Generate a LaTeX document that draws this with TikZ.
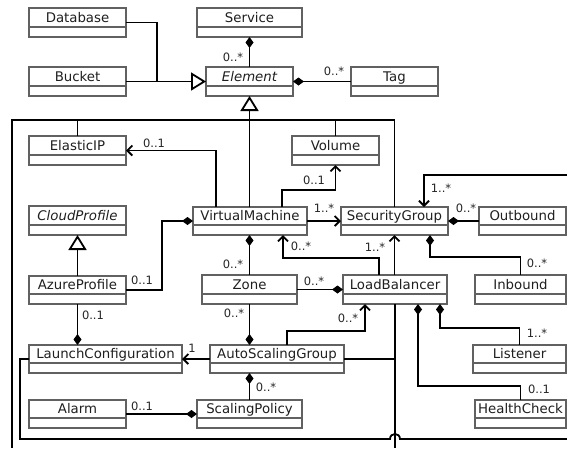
\documentclass[tikz,border=0pt]{standalone}
\usepackage{fontspec}
\setmainfont{DejaVu Sans}
\usetikzlibrary{arrows.meta}
\tikzset{
 ubox/.style={draw=black!62, line width=1.1pt, inner sep=0pt, outer sep=0pt, fill=white},
 udiv/.style={draw=black!62, line width=1.1pt},
 utext/.style={inner sep=0pt, text height=11pt, text depth=2pt, font=\fontsize{13.3}{15}\selectfont, text=black!88},
 conn/.style={draw=black, line width=1.8pt},
 mult/.style={inner sep=0pt, text height=8.4pt, text depth=0pt, font=\fontsize{11.5}{13}\selectfont, text=black!85},
 nav/.style={-{Straight Barb[length=5pt,width=10pt]}},
 comp/.style={-{Diamond[length=11pt,width=8pt]}},
 compstart/.style={{Diamond[length=11pt,width=8pt]}-},
 gen/.style={-{Triangle[length=15pt,width=18pt,fill=white]}},
}
\newcommand\umlbox[6]{%
  \node[ubox, minimum width={#4pt-#2pt}, minimum height={#5pt-#3pt}] (#1) at ({(#2+#4)/2},{(#3+#5)/2}) {};
  \draw[udiv] ([yshift=10pt]#1.south west) -- ([yshift=10pt]#1.south east);
  \node[utext] (#1-t) at ([yshift=5pt]#1.center) {#6};
}
\begin{document}
\begin{tikzpicture}[x=1pt,y=-1pt]
\useasboundingbox[fill=white] (0,0) rectangle (567,448);
% classes
\umlbox{db}{29}{8}{126}{37}{Database}
\umlbox{svc}{197}{8}{302}{37}{Service}
\umlbox{bucket}{29}{67}{126}{96}{Bucket}
\umlbox{elem}{206}{67}{293}{96}{\itshape Element}
\umlbox{tag}{351}{67}{438}{96}{Tag}
\umlbox{eip}{29}{136}{126}{165}{ElasticIP}
\umlbox{vol}{292}{136}{379}{165}{Volume}
\umlbox{cp}{29}{206}{126}{235}{\itshape CloudProfile}
\umlbox{vm}{193}{207}{307}{235}{VirtualMachine}
\umlbox{sg}{341}{207}{448}{235}{SecurityGroup}
\umlbox{ob}{479}{207}{566}{235}{Outbound}
\umlbox{ap}{29}{276}{126}{304}{AzureProfile}
\umlbox{zone}{202}{275}{297}{304}{Zone}
\umlbox{lb}{343}{275}{447}{304}{LoadBalancer}
\umlbox{ib}{475}{275}{566}{304}{Inbound}
\umlbox{lc}{29}{345}{182}{373}{LaunchConfiguration}
\umlbox{asg}{210}{345}{344}{373}{AutoScalingGroup}
\umlbox{lis}{473}{345}{566}{373}{Listener}
\umlbox{alarm}{29}{400}{126}{428}{Alarm}
\umlbox{sp}{197}{400}{302}{428}{ScalingPolicy}
\umlbox{hc}{475}{400}{566}{428}{HealthCheck}
% free ends at the picture edge
\coordinate (lft) at (12,448);
\coordinate (lbend) at (395,448);
\coordinate (rt) at (567,175);
\coordinate (rb) at (567,439);
% connectors
\draw[conn] (db.east) -- (157,0 |- db.east) -- (157,0 |- bucket.east);
\draw[conn,gen] (bucket.east) -- (elem.west);
\draw[conn,compstart] (svc.south) -- (elem.north);
\draw[conn,compstart] (elem.east) -- (tag.west);
\draw[conn,gen] (elem.south |- vm.north) -- (elem.south);
\draw[conn] (lft) -- (12,120) -| (sg.north);
\draw[conn] (eip.north) -- (eip.north |- 0,120);
\draw[conn] (vol.north) -- (vol.north |- 0,120);
\draw[conn,nav] (216,0 |- vm.north) |- (eip.east);
\draw[conn,nav] (282,0 |- vm.north) -- (282,190) -| (vol.south);
\draw[conn,nav] (vm.east) -- (sg.west);
\draw[conn,compstart] (vm.west) -| (162,0 |- ap.east) -- (ap.east);
\draw[conn,gen] (ap.north) -- (cp.south);
\draw[conn,compstart] (ap.south |- lc.north) -- (ap.south);
\draw[conn,compstart] (zone.north |- vm.south) -- (zone.north);
\draw[conn,nav] (379,0 |- lb.north) -- (379,258) -| (283,0 |- vm.south);
\draw[conn,nav] (sg.south |- lb.north) -- (sg.south);
\draw[conn,compstart] (430,0 |- sg.south) -- (430,257) -| (ib.north);
\draw[conn,compstart] (sg.east) -- (ob.west);
\draw[conn,nav] (rt) -| (424,0 |- sg.north);
\draw[conn,comp] (zone.east) -- (lb.west);
\draw[conn,comp] (zone.south) -- (zone.south |- asg.north);
\draw[conn,nav] (287,0 |- asg.north) -- (287,331) -| (365,0 |- lb.south);
\draw[conn,nav] (asg.west) -- (lc.east);
\draw[conn,compstart] (sp.north |- asg.south) -- (sp.north);
\draw[conn,comp] (alarm.east) -- (sp.west);
\draw[conn,compstart] (440,0 |- lb.south) -- (440,328) -| (lis.north);
\draw[conn,compstart] (418,0 |- lb.south) -- (418,386) -| (hc.north);
\draw[conn] (lb.south) -- (lbend);
\draw[conn] (asg.east) -- (asg.east -| lb.south);
\draw[conn] (lc.west) -- (20,0 |- lc.west) -- (20,439) -- (390,439) .. controls (390,432.3) and (400,432.3) .. (400,439) -- (rb);
% multiplicities
\node[mult] (m1) at (233,57) {0..*};
\node[mult] (m2) at (334,71) {0..*};
\node[mult] (m3) at (154,143) {0..1};
\node[mult] (m4) at (314,180) {0..1};
\node[mult] (m5) at (324,208) {1..*};
\node[mult] (m6) at (466,208) {0..*};
\node[mult] (m7) at (441,188) {1..*};
\node[mult] (m8) at (142,280) {0..1};
\node[mult] (m9) at (93,315) {0..1};
\node[mult] (m10) at (233,264) {0..*};
\node[mult] (m11) at (301,246) {0..*};
\node[mult] (m12) at (375,247) {1..*};
\node[mult] (m13) at (537,263) {0..*};
\node[mult] (m14) at (314,281) {0..*};
\node[mult] (m15) at (234,313) {0..*};
\node[mult] (m16) at (348,318) {0..*};
\node[mult] (m17) at (192,348) {1};
\node[mult] (m18) at (266,387) {0..*};
\node[mult] (m19) at (142,406) {0..1};
\node[mult] (m20) at (537,333) {1..*};
\node[mult] (m21) at (539,389) {0..1};
\end{tikzpicture}
\end{document}
